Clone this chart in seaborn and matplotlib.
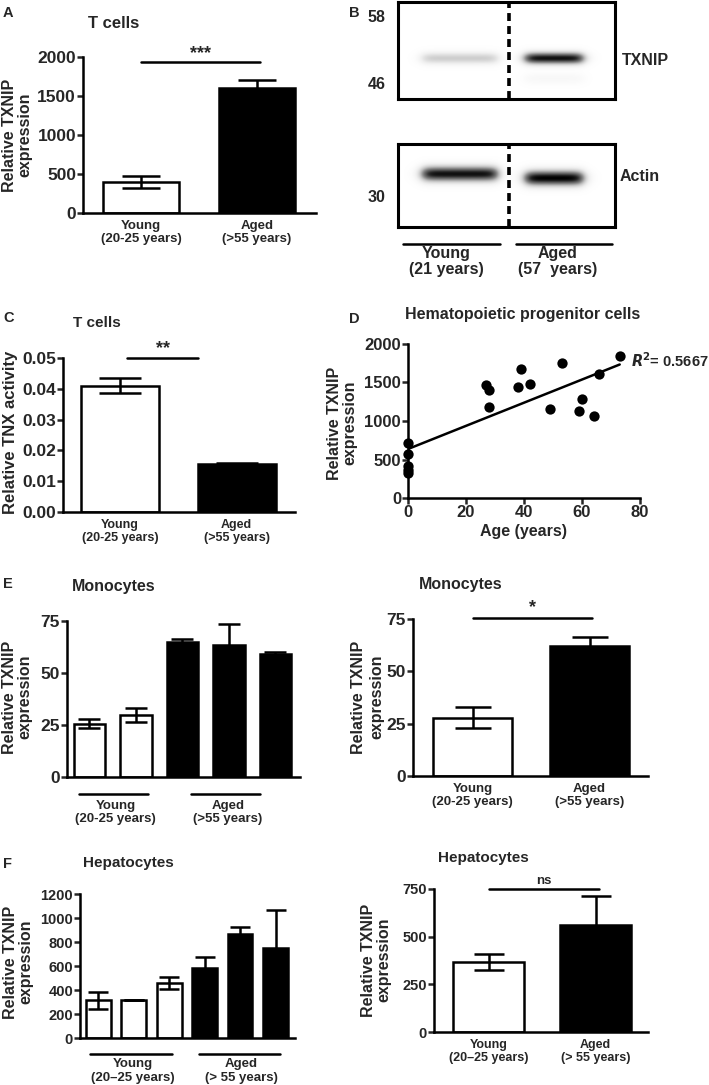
import numpy as np
import matplotlib
matplotlib.use("Agg")
import matplotlib.pyplot as plt
import seaborn as sns

# --- DATA ---
groups = ["Young", "Aged"]
group_labels = ["Young\n(20-25 years)", "Aged\n(>55 years)"]
hep_group_labels = ["Young\n(20\u201325 years)", "Aged\n(> 55 years)"]

tcell_txnip = [400, 1600]
tcell_txnip_err = [75, 105]

tnx_activity = [0.041, 0.0155]
tnx_activity_err = [0.0025, 0.0005]

hpc_age = [0, 0, 0, 0, 0, 27, 28, 28, 38, 39, 42, 49, 53, 59, 60, 64, 66, 73]
hpc_txnip = [710, 570, 410, 370, 330, 1470, 1400, 1180, 1440, 1670, 1475,
             1155, 1755, 1125, 1285, 1065, 1610, 1845]
hpc_r2 = "0.5667"

mono_ids = ["Y1", "Y2", "A1", "A2", "A3"]
mono_group = ["Young", "Young", "Aged", "Aged", "Aged"]
mono_txnip = [25.7, 29.7, 65.0, 63.4, 58.9]
mono_err = [2.0, 3.3, 1.2, 10.0, 1.1]
mono_mean = [27.8, 62.2]
mono_mean_err = [5.0, 4.0]

hep_ids = ["Y1", "Y2", "Y3", "A1", "A2", "A3"]
hep_group = ["Young", "Young", "Young", "Aged", "Aged", "Aged"]
hep_txnip = [315, 320, 459, 587, 869, 746]
hep_err = [70, 0, 50, 85, 52, 317]
hep_mean = [365, 559]
hep_mean_err = [42, 152]

# western blot: lane, relative band position (0 top .. 1 bottom), intensity
blot_lanes = ["Young\n(21 years)", "Aged\n(57  years)"]
txnip_bands = [(0, 0.58, 0.3), (1, 0.58, 0.95), (1, 0.79, 0.06)]
actin_bands = [(0, 0.36, 0.95), (1, 0.41, 1.0)]
txnip_markers = [58, 46]
actin_markers = [30]

# --- STYLE ---
W, H = 709, 1085
sns.set_style("ticks")
plt.rcParams['font.family'] = ['Liberation Sans', 'DejaVu Sans']
plt.rcParams['font.weight'] = 'bold'
plt.rcParams['axes.labelweight'] = 'bold'
PAL = {"Young": "white", "Aged": "black"}
LW = 1.8

fig = plt.figure(figsize=(W / 100, H / 100), dpi=100)


def add_ax(l, t, r, b):
    return fig.add_axes([l / W, 1 - b / H, (r - l) / W, (b - t) / H])


def ftext(x, y, s, **kw):
    kw.setdefault('fontweight', 'bold')
    fig.text(x / W, 1 - y / H, s, **kw)


def prism(ax, yticks, ylim, fs=12.5):
    sns.despine(ax=ax)
    for sp in ['left', 'bottom']:
        ax.spines[sp].set_linewidth(LW)
        ax.spines[sp].set_color('black')
    ax.set_ylim(*ylim)
    ax.set_yticks(yticks)
    ax.tick_params(axis='y', length=4, width=LW, labelsize=fs, pad=1)
    ax.set_ylabel("")
    ax.set_xlabel("")


def bars(ax, ids, vals, errs, grp, width, capsize, xlim):
    sns.barplot(x=ids, y=vals, hue=grp, palette=PAL, dodge=False, legend=False,
                edgecolor='black', linewidth=LW, width=width, errorbar=None, ax=ax)
    ax.errorbar(np.arange(len(vals)), vals, yerr=errs, fmt='none', ecolor='black',
                elinewidth=LW, capsize=capsize, capthick=LW, zorder=3)
    ax.set_xlim(*xlim)


def cat_labels(ax, labels, fs=9.5, pad=5):
    ax.set_xticks(range(len(labels)))
    ax.set_xticklabels(labels, fontsize=fs, fontweight='bold', linespacing=1.15)
    ax.tick_params(axis='x', length=0, pad=pad)


def sig(ax, x0, x1, y, txt, dy, fs=13):
    ax.plot([x0, x1], [y, y], color='black', lw=LW, clip_on=False)
    ax.text((x0 + x1) / 2, y + dy, txt, ha='center', va='bottom', fontsize=fs,
            fontweight='bold', clip_on=False)


def group_lines(ax, spans, labels, y_line, y_txt, fs=9.5):
    tr = ax.get_xaxis_transform()
    for (x0, x1), lab in zip(spans, labels):
        ax.plot([x0, x1], [y_line, y_line], color='black', lw=LW, transform=tr, clip_on=False)
        ax.text((x0 + x1) / 2 + 0.05, y_txt, lab, ha='center', va='top', fontsize=fs,
                fontweight='bold', transform=tr, linespacing=1.15)


def ylab(x, y, s, fs=11.5, ls=1.0):
    ftext(x, y, s, rotation=90, ha='center', va='center', fontsize=fs,
          multialignment='center', linespacing=ls)


# --- A: T cells TXNIP ---
axA = add_ax(83, 57, 316, 213)
bars(axA, groups, tcell_txnip, tcell_txnip_err, groups, 0.66, 14, (-0.5, 1.51))
prism(axA, [0, 500, 1000, 1500, 2000], (0, 2000))
cat_labels(axA, group_labels)
sig(axA, 0.0, 1.03, 1936, "***", 5)
ftext(3, 13, "A", fontsize=10.5, va='center')
ftext(88, 23, "T cells", fontsize=12, va='center')
ylab(17, 135, "Relative TXNIP\nexpression")

# --- B: western blot ---
def blot(ax, bands, sy):
    rows, cols = 200, 400
    yy, xx = np.mgrid[0:1:rows * 1j, 0:1:cols * 1j]
    img = np.zeros((rows, cols))
    lane_span = [(0.11, 0.46), (0.585, 0.855)]
    for lane, yc, inten in bands:
        x0, x1 = lane_span[lane]
        prof_x = 1 / (1 + np.exp(-(xx - x0) / 0.015)) * 1 / (1 + np.exp((xx - x1) / 0.015))
        img += inten * np.exp(-((yy - yc) / sy) ** 2) * prof_x
    ax.imshow(np.clip(img, 0, 1), cmap='Greys', vmin=0, vmax=1.0,
              extent=[0, 1, 1, 0], aspect='auto', interpolation='bilinear')
    ax.axvline(0.51, color='black', lw=2.6, ls=(0, (2.2, 1.4)))
    ax.set_xlim(0, 1)
    ax.set_ylim(1, 0)
    ax.set_xticks([])
    for sp in ax.spines.values():
        sp.set_linewidth(2.2)
        sp.set_color('black')
        sp.set_visible(True)
    ax.tick_params(axis='y', length=0, pad=9, labelsize=11.5)


axB1 = add_ax(398, 2, 615, 99)
blot(axB1, txnip_bands, 0.06)
axB1.set_yticks([0.144, 0.835], [str(m) for m in txnip_markers])
axB1.text(1.03, 0.40, "TXNIP", transform=axB1.transAxes, va='center', ha='left',
          fontsize=11.5, fontweight='bold')

axB2 = add_ax(398, 144, 615, 227)
blot(axB2, actin_bands, 0.09)
axB2.set_yticks([0.63], [str(m) for m in actin_markers])
axB2.text(1.02, 0.61, "Actin", transform=axB2.transAxes, va='center', ha='left',
          fontsize=11.5, fontweight='bold')

for (x0, x1), lab, xc in zip([(403, 500), (516, 612)], blot_lanes, [446, 558]):
    fig.add_artist(plt.Line2D([x0 / W, x1 / W], [1 - 244 / H, 1 - 244 / H],
                              color='black', lw=LW))
    ftext(xc, 246, lab, ha='center', va='top', fontsize=11.5, linespacing=1.1)
ftext(349, 13, "B", fontsize=10.5, va='center')

# --- C: TNX activity ---
axC = add_ax(63, 358, 295, 512)
bars(axC, groups, tnx_activity, tnx_activity_err, groups, 0.67, 15, (-0.49, 1.5))
prism(axC, [0, 0.01, 0.02, 0.03, 0.04, 0.05], (0, 0.05), fs=12.5)
axC.set_yticklabels(["0.00", "0.01", "0.02", "0.03", "0.04", "0.05"])
cat_labels(axC, group_labels, fs=9)
sig(axC, 0.06, 0.67, 0.05, "**", 0.0002)
ftext(3, 318, "C", fontsize=10.5, va='center')
ftext(73, 323, "T cells", fontsize=11, va='center')
ylab(11, 432, "Relative TNX activity", fs=12)

# --- D: HPC scatter ---
axD = add_ax(408, 344, 640, 498)
sns.regplot(x=hpc_age, y=hpc_txnip, ci=None, truncate=True, ax=axD,
            scatter_kws=dict(s=55, color='black', alpha=1, clip_on=False, zorder=4,
                             linewidths=0),
            line_kws=dict(color='black', lw=LW))
prism(axD, [0, 500, 1000, 1500, 2000], (0, 2000), fs=12)
axD.set_xlim(0, 80)
axD.set_xticks([0, 20, 40, 60, 80])
axD.tick_params(axis='x', length=4, width=LW, labelsize=12, pad=1)
axD.set_xlabel("Age (years)", fontsize=11.5, fontweight='bold', labelpad=3)
axD.text(76.8, 1790, r"$\boldsymbol{R}^{\mathbf{2}}$" + "= " + hpc_r2, fontsize=10.5,
         fontweight='bold', va='center', ha='left', clip_on=False)
ftext(349, 319, "D", fontsize=10.5, va='center')
ftext(523, 315, "Hematopoietic progenitor cells", fontsize=11.5, ha='center', va='center')
ylab(342, 423, "Relative TXNIP\nexpression")

# --- E left: monocytes per donor ---
axE1 = add_ax(67, 621, 300, 777)
bars(axE1, mono_ids, mono_txnip, mono_err, mono_group, 0.68, 8, (-0.48, 4.53))
prism(axE1, [0, 25, 50, 75], (0, 75))
axE1.set_xticks([])
group_lines(axE1, [(-0.23, 1.26), (2.18, 3.67)], group_labels, -0.109, -0.145)
ftext(3, 584, "E", fontsize=10.5, va='center')
ftext(72, 586, "Monocytes", fontsize=11.5, va='center')
ylab(17, 697, "Relative TXNIP\nexpression")

# --- E right: monocytes pooled ---
axE2 = add_ax(413, 619, 648, 776)
bars(axE2, groups, mono_mean, mono_mean_err, groups, 0.675, 13, (-0.51, 1.5))
prism(axE2, [0, 25, 50, 75], (0, 75))
cat_labels(axE2, group_labels)
sig(axE2, 0.0, 1.02, 75.3, "*", 1.0)
ftext(419, 585, "Monocytes", fontsize=11.5, va='center')
ylab(368, 697, "Relative TXNIP\nexpression", ls=1.3)

# --- F left: hepatocytes per donor ---
axF1 = add_ax(80, 894, 295, 1038)
bars(axF1, hep_ids, hep_txnip, hep_err, hep_group, 0.7, 7, (-0.52, 5.55))
prism(axF1, [0, 200, 400, 600, 800, 1000, 1200], (0, 1200), fs=10.5)
axF1.set_xticks([])
group_lines(axF1, [(-0.24, 2.08), (2.84, 5.13)], hep_group_labels, -0.111, -0.14)
ftext(3, 864, "F", fontsize=10.5, va='center')
ftext(83, 863, "Hepatocytes", fontsize=11, va='center')
ylab(18, 962, "Relative TXNIP\nexpression")

# --- F right: hepatocytes pooled ---
axF2 = add_ax(434, 889, 648, 1032)
bars(axF2, groups, hep_mean, hep_mean_err, groups, 0.67, 11, (-0.51, 1.49))
prism(axF2, [0, 250, 500, 750], (0, 750), fs=10.5)
cat_labels(axF2, hep_group_labels, fs=9)
sig(axF2, 0.0, 1.03, 752, "ns", 6, fs=9.5)
ftext(438, 858, "Hepatocytes", fontsize=11, va='center')
ylab(376, 960, "Relative TXNIP\nexpression")

fig.savefig("out.png", dpi=100)
